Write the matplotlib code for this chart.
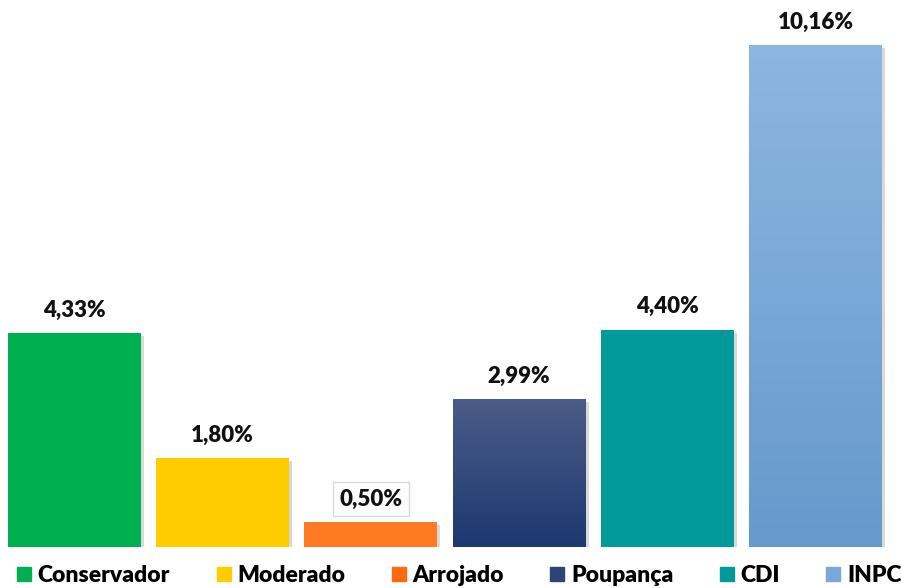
import matplotlib
matplotlib.use("Agg")
import matplotlib.pyplot as plt
import numpy as np
from matplotlib.patches import Rectangle
from matplotlib.lines import Line2D
import matplotlib.transforms as mtransforms
from matplotlib.colors import LinearSegmentedColormap

categories = ["Conservador", "Moderado", "Arrojado", "Poupança", "CDI", "INPC"]
values = [4.33, 1.80, 0.50, 2.99, 4.40, 10.16]
labels = ["4,33%", "1,80%", "0,50%", "2,99%", "4,40%", "10,16%"]
top_colors = ["#00B050", "#FFCC00", "#FF7A22", "#4C5C88", "#009A9A", "#8DB6E2"]
bottom_colors = ["#00B050", "#FFCC00", "#FF7A22", "#1C3870", "#009A9A", "#6699CC"]
legend_colors = ["#00B050", "#FFCC00", "#FF6A10", "#2E4378", "#009A9A", "#7AA7DA"]

FONT = "Lato"

fig = plt.figure(figsize=(9.01, 5.88), dpi=100)
ax = fig.add_axes([0, 41 / 588, 1, 502 / 588])
ax.set_xlim(-0.5027, 5.577)
ax.set_ylim(0, 10.16)
ax.axis("off")

width = 0.897
x = np.arange(len(categories))
bars = ax.bar(x, values, width=width, color=top_colors, zorder=3)

shadow_tr = mtransforms.offset_copy(ax.transData, fig=fig, x=3, y=-3, units="dots")
for i, (b, v) in enumerate(zip(bars, values)):
    x0 = b.get_x()
    sh = Rectangle((x0, 0), width, v, facecolor="#000000", alpha=0.15,
                   transform=shadow_tr, zorder=2, linewidth=0)
    ax.add_patch(sh)
    if top_colors[i] != bottom_colors[i]:
        cmap = LinearSegmentedColormap.from_list("g", [bottom_colors[i], top_colors[i]])
        grad = np.linspace(0, 1, 256).reshape(-1, 1)
        im = ax.imshow(grad, extent=(x0, x0 + width, 0, v), origin="lower",
                       cmap=cmap, aspect="auto", zorder=4)
        im.set_clip_path(b)
    txt = ax.annotate(labels[i], (x[i], v), xytext=(0, 9), textcoords="offset points",
                      ha="center", va="bottom", fontsize=16, fontweight="heavy",
                      family=FONT, color="#111111", zorder=5, annotation_clip=False)
    if i == 2:
        txt.set_bbox(dict(boxstyle="square,pad=0.3", facecolor="white",
                          edgecolor="#D9D9D9", linewidth=1))

ax.set_xlim(-0.5027, 5.577)
ax.set_ylim(0, 10.16)

handles = [Line2D([0], [0], marker="s", linestyle="none", markersize=9.5,
                  markerfacecolor=c, markeredgecolor=c) for c in legend_colors]
leg = fig.legend(handles, categories, loc="center", bbox_to_anchor=(0.508, 12 / 588),
                 ncol=6, frameon=False, handletextpad=0.15, columnspacing=1.88,
                 handlelength=0.9, borderpad=0,
                 prop={"family": FONT, "weight": "heavy", "size": 16.5})

fig.savefig("out.png", dpi=100)
